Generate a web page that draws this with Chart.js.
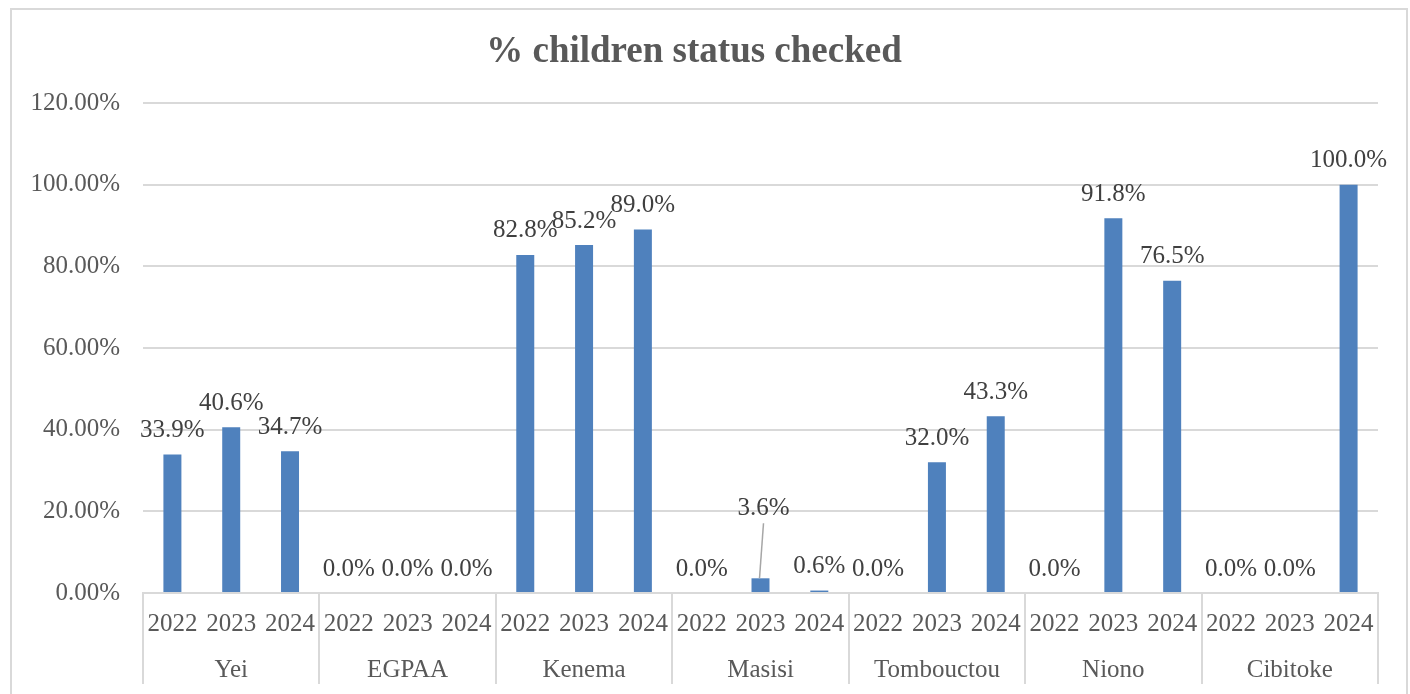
<!DOCTYPE html>
<html>
<head>
<meta charset="utf-8">
<script src="https://cdn.jsdelivr.net/npm/chart.js@4/dist/chart.umd.min.js"></script>
<style>
  html, body { margin: 0; padding: 0; background: #fff; overflow: hidden; }
  #wrap { position: relative; width: 1410px; height: 694px; }
  #frame { position: absolute; left: 10px; top: 8px; width: 1398px; height: 720px;
           box-sizing: border-box; border: 2px solid #d9d9d9; pointer-events: none; }
  canvas { position: absolute; left: 0; top: 0; }
</style>
</head>
<body>
<div id="wrap">
  <canvas id="c" width="1410" height="694"></canvas>
  <div id="frame"></div>
</div>
<script>
// Sites and reporting years
const sites = ['Yei', 'EGPAA', 'Kenema', 'Masisi', 'Tombouctou', 'Niono', 'Cibitoke'];
const years = ['2022', '2023', '2024'];

// % of children whose status was checked, per site, for 2022 / 2023 / 2024
const yei        = [33.9, 40.6, 34.7];
const egpaa      = [0.0, 0.0, 0.0];
const kenema     = [82.8, 85.2, 89.0];
const masisi     = [0.0, 3.6, 0.6];
const tombouctou = [0.0, 32.0, 43.3];
const niono      = [0.0, 91.8, 76.5];
const cibitoke   = [0.0, 0.0, 100.0];

// Value axis ticks
const yMax = 120;
const yStep = 20;

const siteValues = [yei, egpaa, kenema, masisi, tombouctou, niono, cibitoke];
const yearLabels = sites.flatMap(() => years);
const values = siteValues.flat();

const FONT = '"Liberation Serif", "Times New Roman", serif';
const GRID = '#d9d9d9';

// Value labels above each bar; one label sits higher with a leader line
const valueLabels = {
  id: 'valueLabels',
  afterDatasetsDraw(chart, args, opts) {
    const ctx = chart.ctx;
    const meta = chart.getDatasetMeta(0);
    const data = chart.data.datasets[0].data;
    ctx.save();
    ctx.font = '25px ' + FONT;
    ctx.fillStyle = '#404040';
    ctx.textAlign = 'center';
    ctx.textBaseline = 'middle';
    meta.data.forEach((bar, i) => {
      let x = bar.x, y = bar.y - opts.gap;
      const moved = opts.moved[i];
      if (moved) {
        x += moved.dx; y += moved.dy;
        ctx.strokeStyle = '#a6a6a6';
        ctx.lineWidth = 1.5;
        ctx.beginPath();
        ctx.moveTo(x, y + 15);
        ctx.lineTo(bar.x - 1, bar.y);
        ctx.stroke();
      }
      ctx.fillText(data[i].toFixed(1) + '%', x, y);
    });
    ctx.restore();
  }
};

new Chart(document.getElementById('c'), {
  type: 'bar',
  data: {
    labels: yearLabels,
    datasets: [{
      data: values,
      backgroundColor: '#4f81bd',
      borderWidth: 0,
      categoryPercentage: 1,
      barPercentage: 0.306
    }]
  },
  options: {
    responsive: false,
    devicePixelRatio: 1,
    animation: false,
    layout: { padding: { left: 10, right: 32, top: 0, bottom: 0 } },
    plugins: {
      legend: { display: false },
      tooltip: { enabled: false },
      title: {
        display: true,
        text: '% children status checked',
        color: '#595959',
        font: { family: FONT, size: 37, weight: 'bold', lineHeight: 1.2 },
        padding: { top: 30, bottom: 28.6 }
      },
      valueLabels: {
        gap: 24,
        moved: { 10: { dx: 3, dy: -46 } }
      }
    },
    scales: {
      y: {
        min: 0,
        max: yMax,
        ticks: {
          stepSize: yStep,
          padding: 23,
          color: '#595959',
          font: { family: FONT, size: 25 },
          callback: v => Number(v).toFixed(2) + '%'
        },
        grid: { color: GRID, lineWidth: 2, drawTicks: false },
        border: { display: false },
        afterFit: s => { s.width = 133; }
      },
      x: {
        position: 'bottom',
        offset: true,
        ticks: {
          autoSkip: false,
          maxRotation: 0,
          minRotation: 0,
          padding: -41,
          color: '#595959',
          font: { family: FONT, size: 25 }
        },
        grid: {
          offset: true,
          drawOnChartArea: false,
          drawTicks: true,
          tickLength: 57,
          lineWidth: 2,
          color: c => (c.index === undefined || c.index % 3 === 0) ? GRID : 'rgba(0,0,0,0)'
        },
        border: { display: true, color: GRID, width: 2 },
        afterFit: s => { s.height = 57; }
      },
      x2: {
        type: 'category',
        position: 'bottom',
        labels: sites,
        offset: true,
        ticks: {
          autoSkip: false,
          maxRotation: 0,
          minRotation: 0,
          padding: -29,
          color: '#595959',
          font: { family: FONT, size: 25 }
        },
        grid: {
          offset: true,
          drawOnChartArea: false,
          drawTicks: true,
          tickLength: 34,
          lineWidth: 2,
          color: GRID
        },
        border: { display: false },
        afterFit: s => { s.height = 44; }
      }
    }
  },
  plugins: [valueLabels]
});
</script>
</body>
</html>
